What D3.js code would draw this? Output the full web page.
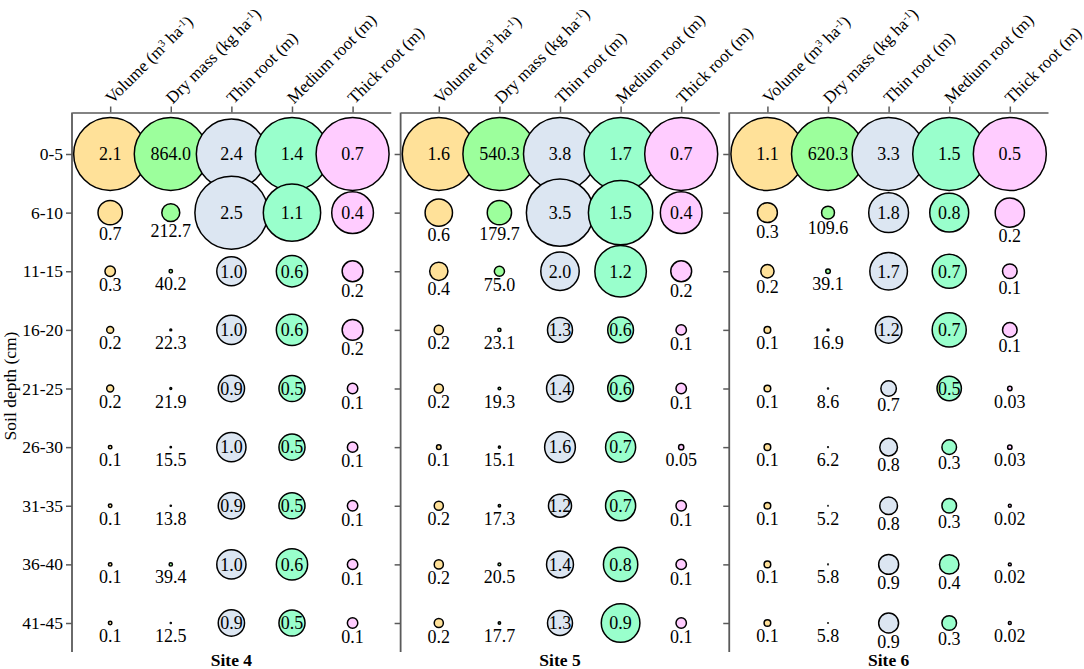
<!DOCTYPE html>
<html>
<head>
<meta charset="utf-8">
<script src="https://cdn.jsdelivr.net/npm/d3@7"></script>
<style>
body { margin: 0; background: #fff; }
svg text { font-family: "Liberation Serif", "Times New Roman", serif !important; fill: #000; }
</style>
</head>
<body>
<div id="chart"></div>
<script>
// categories
var sites = ["Site 4", "Site 5", "Site 6"];
var depths = ["0-5", "6-10", "11-15", "16-20", "21-25", "26-30", "31-35", "36-40", "41-45"];
var variables = ["volume", "dry", "thin", "medium", "thick"];

// values per site, top row = 0-5 cm
var site4Volume = [2.1, 0.7, 0.3, 0.2, 0.2, 0.1, 0.1, 0.1, 0.1];
var site4Dry    = [864.0, 212.7, 40.2, 22.3, 21.9, 15.5, 13.8, 39.4, 12.5];
var site4Thin   = [2.4, 2.5, 1.0, 1.0, 0.9, 1.0, 0.9, 1.0, 0.9];
var site4Medium = [1.4, 1.1, 0.6, 0.6, 0.5, 0.5, 0.5, 0.6, 0.5];
var site4Thick  = [0.7, 0.4, 0.2, 0.2, 0.1, 0.1, 0.1, 0.1, 0.1];

var site5Volume = [1.6, 0.6, 0.4, 0.2, 0.2, 0.1, 0.2, 0.2, 0.2];
var site5Dry    = [540.3, 179.7, 75.0, 23.1, 19.3, 15.1, 17.3, 20.5, 17.7];
var site5Thin   = [3.8, 3.5, 2.0, 1.3, 1.4, 1.6, 1.2, 1.4, 1.3];
var site5Medium = [1.7, 1.5, 1.2, 0.6, 0.6, 0.7, 0.7, 0.8, 0.9];
var site5Thick  = [0.7, 0.4, 0.2, 0.1, 0.1, 0.05, 0.1, 0.1, 0.1];

var site6Volume = [1.1, 0.3, 0.2, 0.1, 0.1, 0.1, 0.1, 0.1, 0.1];
var site6Dry    = [620.3, 109.6, 39.1, 16.9, 8.6, 6.2, 5.2, 5.8, 5.8];
var site6Thin   = [3.3, 1.8, 1.7, 1.2, 0.7, 0.8, 0.8, 0.9, 0.9];
var site6Medium = [1.5, 0.8, 0.7, 0.7, 0.5, 0.3, 0.3, 0.4, 0.3];
var site6Thick  = [0.5, 0.2, 0.1, 0.1, 0.03, 0.03, 0.02, 0.02, 0.02];

// header labels, [text, superscript?]
var headers = {
  volume: [["Volume (m", 0], ["3", 1], [" ha", 0], ["-1", 1], [")", 0]],
  dry:    [["Dry mass (kg ha", 0], ["-1", 1], [")", 0]],
  thin:   [["Thin root (m)", 0]],
  medium: [["Medium root (m)", 0]],
  thick:  [["Thick root (m)", 0]]
};

var fills = {volume: "#ffe199", dry: "#9cff9c", thin: "#dce6f2", medium: "#99ffcc", thick: "#ffccff"};

var table = {
  "Site 4": {volume: site4Volume, dry: site4Dry, thin: site4Thin, medium: site4Medium, thick: site4Thick},
  "Site 5": {volume: site5Volume, dry: site5Dry, thin: site5Thin, medium: site5Medium, thick: site5Thick},
  "Site 6": {volume: site6Volume, dry: site6Dry, thin: site6Thin, medium: site6Medium, thick: site6Thick}
};

var width = 1084, height = 669;
var axisTop = 112.5, axisBottom = 652;
var maxR = 36.5;
var axisColor = "#5a5a5a";
var serif = '"Liberation Serif", "Times New Roman", serif';

var svg = d3.select('#chart').append('svg')
  .attr("width", width)
  .attr("height", height)
  .attr("font-family", serif);

var yscale = d3.scalePoint().domain(depths).range([154, 623]);
var panelscale = d3.scaleBand().domain(sites).range([72, 1048]).paddingInner(0.03);

function fmt(v, key){
  if(key == "dry") return v.toFixed(1);
  return v < 0.1 ? v.toFixed(2) : v.toFixed(1);
}

// y axis title
svg.append("text")
  .attr("transform", "translate(16," + 386 + ") rotate(-90)")
  .attr("text-anchor", "middle")
  .style("font-size", "17.5px")
  .text("Soil depth (cm)");

sites.forEach(function(site, si){
  var x0 = panelscale(site), bw = panelscale.bandwidth();
  var xscale = d3.scalePoint().domain(variables).range([x0, x0 + bw]).padding(0.63);
  var g = svg.append("g");

  // top axis
  var top = g.append("g")
    .attr("transform", "translate(0," + axisTop + ")")
    .call(d3.axisTop(xscale).tickSize(6).tickSizeOuter(0).tickFormat(""));
  top.select(".domain").attr("stroke", axisColor).attr("stroke-width", 1.5);
  top.selectAll(".tick line").attr("stroke", axisColor).attr("stroke-width", 1.5);

  variables.forEach(function(v){
    var t = g.append("text")
      .attr("transform", "translate(" + (xscale(v) + 2) + "," + (axisTop - 8) + ") rotate(-45)")
      .style("font-size", "17px");
    headers[v].forEach(function(p){
      var ts = t.append("tspan").text(p[0]);
      if(p[1]) ts.attr("baseline-shift", "super").style("font-size", "10.5px");
    });
  });

  // left axis
  var left = g.append("g")
    .attr("transform", "translate(" + x0 + ",0)")
    .call(d3.axisLeft(yscale).tickSize(6).tickPadding(3).tickSizeOuter(0).tickFormat(si == 0 ? null : ""));
  left.attr("font-family", serif);
  left.select(".domain").remove();
  left.selectAll(".tick line").attr("stroke", axisColor).attr("stroke-width", 1.5);
  left.selectAll(".tick text")
    .style("font-size", "17.5px")
    .attr("fill", "#000");
  left.append("line")
    .attr("x1", 0).attr("x2", 0)
    .attr("y1", axisTop).attr("y2", axisBottom)
    .attr("stroke", axisColor).attr("stroke-width", 1.8);

  // bubbles
  var items = [];
  variables.forEach(function(v){
    var vals = table[site][v];
    var rscale = d3.scaleLinear().domain([0, d3.max(vals)]).range([0, maxR]);
    vals.forEach(function(val, i){
      items.push({key: v, depth: depths[i], value: val, r: rscale(val)});
    });
  });

  g.selectAll("circle.bubble")
    .data(items)
    .enter().append("circle")
    .attr("class", "bubble")
    .attr("cx", function(d){ return xscale(d.key); })
    .attr("cy", function(d){ return yscale(d.depth); })
    .attr("r", function(d){ return d.r; })
    .attr("fill", function(d){ return fills[d.key]; })
    .attr("stroke", "#000")
    .attr("stroke-width", 1.5);

  g.selectAll("text.val")
    .data(items)
    .enter().append("text")
    .attr("class", "val")
    .attr("text-anchor", "middle")
    .style("font-size", "18px")
    .each(function(d){
      var inside = d.r >= 16 || ((d.key == "thin" || d.key == "medium") && d.r >= 11);
      var el = d3.select(this).attr("x", xscale(d.key));
      if(inside){
        el.attr("y", yscale(d.depth)).attr("dy", "0.35em");
      } else {
        el.attr("y", yscale(d.depth) + Math.max(d.r + 15, 19));
      }
    })
    .text(function(d){ return fmt(d.value, d.key); });

  // site label
  g.append("text")
    .attr("x", xscale("thin"))
    .attr("y", 666)
    .attr("text-anchor", "middle")
    .style("font-size", "17.5px")
    .style("font-weight", "bold")
    .text(site);
});
</script>
</body>
</html>
